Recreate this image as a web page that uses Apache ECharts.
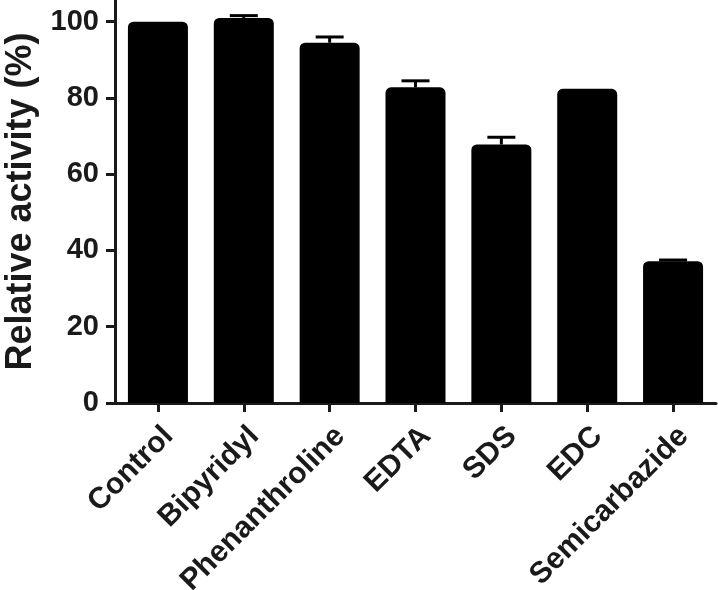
<!DOCTYPE html>
<html>
<head>
<meta charset="utf-8">
<script src="https://cdn.jsdelivr.net/npm/echarts@6/dist/echarts.min.js"></script>
<style>
  html, body { margin: 0; padding: 0; background: #fff; }
  #chart { width: 718px; height: 590px; }
</style>
</head>
<body>
<div id="chart"></div>
<script>
// ---- data ----
const categories = ['Control', 'Bipyridyl', 'Phenanthroline', 'EDTA', 'SDS', 'EDC', 'Semicarbazide'];
const activity = [100, 101, 94.5, 82.8, 67.8, 82.4, 37.2];
const errorUp = [0, 0.6, 1.5, 1.7, 1.9, 0, 0.3];
const yTicks = [0, 20, 40, 60, 80, 100];
const yAxisTitle = 'Relative activity (%)';

const FONT = '"Liberation Sans", Arial, Helvetica, sans-serif';
const INK = '#1a1a1a';

const errData = categories.map((c, i) => [i, activity[i], activity[i] + errorUp[i]]);

const chart = echarts.init(document.getElementById('chart'), null, { renderer: 'canvas' });
chart.setOption({
  animation: false,
  backgroundColor: '#fff',
  grid: { left: 115, right: 2, top: 0, bottom: 187, containLabel: false, outerBoundsMode: 'none' },
  xAxis: {
    type: 'category',
    data: categories,
    axisLine: { show: true, lineStyle: { color: INK, width: 3 } },
    axisTick: { show: true, alignWithLabel: true, length: 9, lineStyle: { color: INK, width: 3 } },
    axisLabel: {
      interval: 0, rotate: 45, margin: 18, verticalAlign: 'top',
      fontFamily: FONT, fontWeight: 'bold', fontSize: 30, color: INK
    },
    splitLine: { show: false }
  },
  yAxis: {
    type: 'value',
    min: 0, max: 105.7,
    name: yAxisTitle,
    nameLocation: 'middle',
    nameRotate: 90,
    nameGap: 76,
    nameTextStyle: { fontFamily: FONT, fontWeight: 'bold', fontSize: 36, color: INK },
    axisLine: { show: true, lineStyle: { color: INK, width: 3 } },
    axisTick: { show: true, length: 9, customValues: yTicks, lineStyle: { color: INK, width: 3 } },
    axisLabel: {
      customValues: yTicks, margin: 16,
      fontFamily: FONT, fontWeight: 'bold', fontSize: 29, color: INK
    },
    splitLine: { show: false }
  },
  series: [
    {
      type: 'bar',
      data: activity,
      barWidth: 60,
      itemStyle: { color: '#000', borderColor: '#000', borderWidth: 3, borderRadius: [4, 4, 0, 0] },
      z: 2
    },
    {
      type: 'custom',
      data: errData,
      z: 3,
      renderItem: function (params, api) {
        const i = api.value(0);
        const lo = api.coord([i, api.value(1)]);
        const hi = api.coord([i, api.value(2)]);
        if (api.value(2) - api.value(1) <= 0) return null;
        const half = 14;
        const style = { stroke: '#000', lineWidth: 3 };
        return {
          type: 'group',
          children: [
            { type: 'line', shape: { x1: lo[0], y1: lo[1], x2: hi[0], y2: hi[1] }, style: style },
            { type: 'line', shape: { x1: hi[0] - half, y1: hi[1], x2: hi[0] + half, y2: hi[1] }, style: style }
          ]
        };
      }
    }
  ]
});
</script>
</body>
</html>
